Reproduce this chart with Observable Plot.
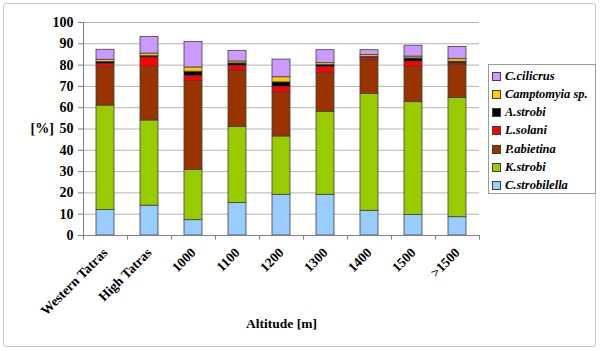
<!DOCTYPE html>
<html>
<head>
<meta charset="utf-8">
<script src="https://cdn.jsdelivr.net/npm/d3@7"></script>
<script src="https://cdn.jsdelivr.net/npm/@observablehq/plot@0.6"></script>
<style>
  html, body { margin: 0; padding: 0; background: #fff; }
  #wrap { position: relative; width: 600px; height: 351px; overflow: hidden; font-family: "Liberation Serif", Tinos, "Times New Roman", Times, "DejaVu Serif", serif; }
  #outer { position: absolute; left: 3px; top: 3px; width: 593px; height: 344px; border: 1px solid #c8c8c8; border-radius: 3px; box-sizing: border-box; pointer-events: none; }
  #legend { position: absolute; left: 488px; top: 64px; width: 108px; height: 130px; border: 1px solid #9a9a9a; box-sizing: border-box; background: #fff; }
  .item { position: absolute; left: 3px; height: 16px; display: flex; align-items: center; font-family: "Liberation Serif", Tinos, "Times New Roman", Times, "DejaVu Serif", serif; font-weight: bold; font-style: italic; font-size: 12.5px; white-space: nowrap; color: #000; }
  .sw { width: 7px; height: 7px; border: 1px solid #404040; margin-right: 4px; flex: none; }
  #chart { position: absolute; left: 0; top: 0; }
  #chart svg text { font-family: "Liberation Serif", Tinos, "Times New Roman", Times, "DejaVu Serif", serif; }
</style>
</head>
<body>
<div id="wrap">
  <div id="chart"></div>
  <div id="outer"></div>
  <div id="legend"></div>
</div>
<script>
const categories = ["Western Tatras", "High Tatras", "1000", "1100", "1200", "1300", "1400", "1500", ">1500"];
const species = ["C.strobilella", "K.strobi", "P.abietina", "L.solani", "A.strobi", "Camptomyia sp.", "C.cilicrus"];
const colors = ["#99ccff", "#99cc00", "#993300", "#ff0000", "#000000", "#ffcc00", "#cc99ff"];

const cStrobilella = [12, 14, 7.2, 15.2, 19.1, 19.1, 11.6, 9.6, 8.6];
const kStrobi      = [49, 40, 23.6, 35.8, 27.4, 39, 54.8, 53, 55.9];
const pAbietina    = [18, 25.2, 41.7, 26.5, 20.6, 18.1, 15.8, 16.5, 15.5];
const lSolani      = [1.5, 4.4, 2.5, 2.2, 2.8, 2.9, 1.2, 2.6, 0.8];
const aStrobi      = [1, 0.6, 1.9, 1.1, 2.0, 0.9, 0.5, 1.4, 0.8];
const camptomyia   = [1, 1.2, 2, 0.9, 2.4, 0.9, 0.8, 0.9, 1.2];
const cCilicrus    = [4.7, 7.8, 12, 5, 8.3, 6.1, 2.3, 5.1, 5.7];

const yTicks = [0, 10, 20, 30, 40, 50, 60, 70, 80, 90, 100];
const yLabel = "[%]";
const xLabel = "Altitude [m]";

const series = [cStrobilella, kStrobi, pAbietina, lSolani, aStrobi, camptomyia, cCilicrus];
const data = [];
species.forEach((s, i) => categories.forEach((c, j) => data.push({cat: c, species: s, value: series[i][j]})));

const font = '"Liberation Serif", Tinos, "Times New Roman", Times, "DejaVu Serif", serif';

const chart = Plot.plot({
  width: 600,
  height: 351,
  marginLeft: 83,
  marginRight: 121,
  marginTop: 22,
  marginBottom: 116,
  style: {fontFamily: font, fontWeight: "bold", color: "#000", background: "transparent"},
  x: {domain: categories, paddingInner: 0.59, paddingOuter: 0.295, axis: null},
  y: {domain: [0, 100], axis: null},
  color: {domain: species, range: colors},
  marks: [
    Plot.gridY(yTicks, {stroke: "#b4b4b4", strokeOpacity: 1, strokeWidth: 1}),
    Plot.barY(data, {x: "cat", y: "value", fill: "species", order: species, stroke: "#404040", strokeWidth: 0.8}),
    Plot.ruleY([0], {stroke: "#808080"}),
    Plot.ruleX([categories[0]], {dx: -22, y1: 0, y2: 100, stroke: "#808080"}),
    Plot.ruleX(categories, {dx: -22, y1: 0, y2: -2.2, stroke: "#808080"}),
    Plot.ruleX([categories[categories.length - 1]], {dx: 22, y1: 0, y2: -2.2, stroke: "#808080"}),
    Plot.axisY({ticks: yTicks, tickSize: 5, tickPadding: 5, fontSize: 14, fontWeight: "bold", stroke: "#808080", label: null}),
    Plot.axisX({tickSize: 0, tickPadding: 15, tickRotate: -45, fontSize: 13.5, fontWeight: "bold", label: null}),
    Plot.text([xLabel], {frameAnchor: "bottom", dy: 92, fontSize: 13.5, fontWeight: "bold"}),
    Plot.text([yLabel], {frameAnchor: "left", dx: -53, fontSize: 14, fontWeight: "bold"})
  ]
});
document.getElementById("chart").appendChild(chart);

const legend = document.getElementById("legend");
const order = species.slice().reverse();
order.forEach((s, i) => {
  const div = document.createElement("div");
  div.className = "item";
  div.style.top = (3 + i * 18.3) + "px";
  const sw = document.createElement("span");
  sw.className = "sw";
  sw.style.background = colors[species.indexOf(s)];
  const t = document.createElement("span");
  t.textContent = s;
  div.appendChild(sw);
  div.appendChild(t);
  legend.appendChild(div);
});
</script>
</body>
</html>
